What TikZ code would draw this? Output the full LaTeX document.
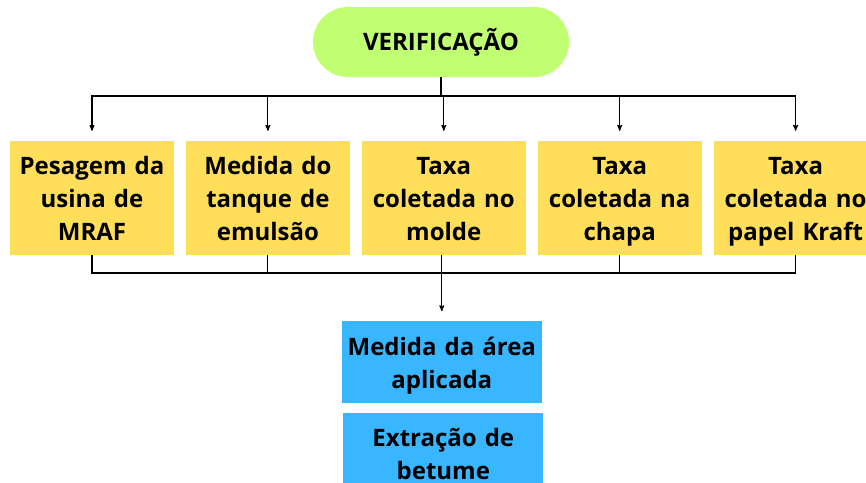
\documentclass[tikz,border=0pt]{standalone}
\usepackage{fontspec}
\setmainfont{Open Sans}
\usetikzlibrary{arrows,positioning}

\definecolor{verde}{HTML}{C1FF72}
\definecolor{amarelo}{HTML}{FFDE59}
\definecolor{azul}{HTML}{38B6FF}

\tikzset{
  caixa/.style={fill=amarelo,minimum width=164pt,minimum height=114pt,
    text width=156pt,align=center,inner sep=0pt,
    font=\fontsize{24}{33}\selectfont\bfseries,
    execute at begin node={\rule{0pt}{29pt}},execute at end node=\strut},
  caixaazul/.style={caixa,fill=azul,minimum width=200pt,minimum height=82pt,
    text width=192pt},
  linha/.style={line width=1.1pt},
  seta/.style={linha,->,shorten >=10pt}
}

\begin{document}
\begin{tikzpicture}[x=1pt,y=-1pt,>=stealth',node distance=11.5pt]

                \useasboundingbox (0,0) rectangle (866,482);

                \node[fill=verde,rounded corners=35pt,minimum width=256pt,minimum height=70pt,
                      font=\fontsize{24}{33}\selectfont\bfseries] (verif) at (441,42) {VERIFICAÇÃO};

                \node[caixa] (b1) at (92,198) {Pesagem da\\usina de\\MRAF};

                \node[caixa] (b2) [right=of b1] {Medida do\\tanque de\\emulsão};

                \node[caixa] (b3) [right=of b2] {Taxa\\coletada no\\molde};

                \node[caixa] (b4) [right=of b3] {Taxa\\coletada na\\chapa};

                \node[caixa] (b5) [right=of b4] {Taxa\\coletada no\\papel Kraft};

                \node[caixaazul] (area) [below=66pt of b3,xshift=-2pt] {Medida da área\\aplicada};

                \node[caixaazul] (betume) [below=9pt of area,xshift=1.5pt] {Extração de\\betume};

                

                \coordinate (topo) at (0,96);

                \coordinate (base) at (0,273);

                \foreach \b in {b1,b2,b3,b4,b5}
                    \draw[seta] (verif.south) |- (topo -| \b.north) -- (\b.north);

                \foreach \b in {b1,b2,b4,b5}
                    \draw[linha] (\b.south) |- (base -| area.north);

                \draw[seta] (b3.south -| area.north) -- (area.north);

            \end{tikzpicture}
\end{document}
